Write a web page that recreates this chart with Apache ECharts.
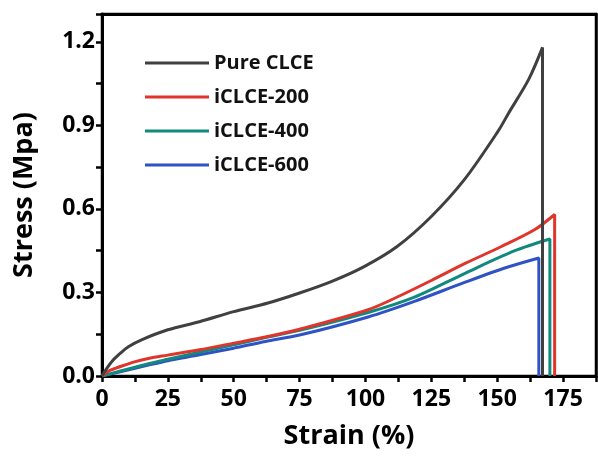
<!DOCTYPE html>
<html>
<head>
<meta charset="utf-8">
<script src="https://cdn.jsdelivr.net/npm/echarts@6/dist/echarts.min.js"></script>
<style>
html, body { margin: 0; padding: 0; background: #fff; }
#chart { width: 598px; height: 456px; background: #fff; }
</style>
</head>
<body>
<div id="chart"></div>
<script>
// stress-strain curves, [strain %, stress MPa]
var pureClce = [[0,0],[2,0.03],[4,0.055],[7,0.082],[10,0.105],[15,0.13],[25,0.166],[37,0.195],[50,0.231],[63,0.262],[75,0.298],[87,0.339],[99.5,0.393],[112,0.465],[125,0.573],[137.6,0.706],[150.4,0.88],[154.2,0.942],[162,1.066],[167.2,1.18],[167.2,0]];
var iclce200 = [[0,0],[3,0.02],[7,0.034],[12,0.05],[18,0.064],[25,0.075],[37,0.094],[50,0.118],[62,0.14],[75,0.168],[101,0.238],[113.5,0.29],[125,0.343],[138,0.405],[151.6,0.465],[164.3,0.526],[171.8,0.58],[171.8,0]];
var iclce400 = [[0,0],[7,0.018],[18,0.045],[25,0.06],[37,0.085],[50,0.112],[62,0.138],[75,0.164],[101,0.228],[118.6,0.283],[137.6,0.368],[156.7,0.45],[170,0.492],[170,0]];
var iclce600 = [[0,0],[7,0.015],[18,0.04],[25,0.055],[37,0.076],[50,0.1],[62,0.124],[75,0.147],[101,0.212],[118.6,0.268],[137.6,0.336],[152.9,0.388],[165.8,0.424],[165.8,0]];

var seriesNames = ['Pure CLCE', 'iCLCE-200', 'iCLCE-400', 'iCLCE-600'];
var seriesColors = ['#404040', '#e0352c', '#12897e', '#2f52c4'];
var seriesData = [pureClce, iclce200, iclce400, iclce600];

var chart = echarts.init(document.getElementById('chart'));

var series = [];
for (var i = 0; i < seriesData.length; i++) {
    series.push({
        name: seriesNames[i],
        type: 'line',
        data: seriesData[i],
        symbol: 'none',
        smooth: 0.3,
        color: seriesColors[i],
        lineStyle: { width: 3, color: seriesColors[i] },
        z: 10 - i
    });
}

function onStep(v, step) {
    var k = v / step;
    return Math.abs(k - Math.round(k)) < 1e-6;
}

function blank() { return ''; }

var boldFont = {
    fontFamily: 'Open Sans',
    fontWeight: 'bold',
    color: '#000'
};

var option = {
    animation: false,
    grid: {
        left: 102,
        right: 2,
        top: 14,
        bottom: 80,
        outerBoundsMode: 'none',
        containLabel: false,
        show: true,
        backgroundColor: 'rgba(0,0,0,0)',
        borderColor: '#000',
        borderWidth: 2.5
    },
    legend: {
        orient: 'vertical',
        left: 140,
        top: 48,
        icon: 'rect',
        itemWidth: 64,
        itemHeight: 3,
        itemGap: 14,
        data: seriesNames,
        textStyle: {
            fontFamily: 'Open Sans',
            fontWeight: 'bold',
            fontSize: 20,
            color: '#111'
        }
    },
    xAxis: [{
        type: 'value',
        min: 0,
        max: 187.5,
        interval: 12.5,
        name: 'Strain (%)',
        nameLocation: 'middle',
        nameGap: 47,
        nameTextStyle: Object.assign({ fontSize: 27 }, boldFont),
        splitLine: { show: false },
        axisLine: { show: true, lineStyle: { color: '#000', width: 3 } },
        axisTick: { length: 6, lineStyle: { color: '#000', width: 2.5 } },
        axisLabel: Object.assign({
            fontSize: 23,
            margin: 12,
            formatter: function (v) { return onStep(v, 25) && v < 180 ? String(v) : ''; }
        }, boldFont)
    }, {
        type: 'value',
        position: 'top',
        min: 0,
        max: 187.5,
        interval: 12.5,
        splitLine: { show: false },
        axisLine: { show: true, onZero: false, lineStyle: { color: '#000', width: 3 } },
        axisTick: { show: false },
        axisLabel: { show: true, formatter: blank }
    }],
    yAxis: [{
        type: 'value',
        min: 0,
        max: 1.3,
        interval: 0.15,
        name: 'Stress (Mpa)',
        nameLocation: 'middle',
        nameGap: 64,
        nameTextStyle: Object.assign({ fontSize: 27 }, boldFont),
        splitLine: { show: false },
        axisLine: { show: true, lineStyle: { color: '#000', width: 3 } },
        axisTick: { show: true, length: 6, lineStyle: { color: '#000', width: 2.5 } },
        axisLabel: Object.assign({
            fontSize: 23,
            margin: 7,
            formatter: function (v) { return onStep(v, 0.3) && v < 1.25 ? v.toFixed(1) : ''; }
        }, boldFont)
    }, {
        type: 'value',
        position: 'right',
        min: 0,
        max: 1.3,
        interval: 0.15,
        splitLine: { show: false },
        axisLine: { show: true, onZero: false, lineStyle: { color: '#000', width: 2.5 } },
        axisTick: { show: false },
        axisLabel: { show: true, formatter: blank }
    }],
    series: series
};

chart.setOption(option);
</script>
</body>
</html>
